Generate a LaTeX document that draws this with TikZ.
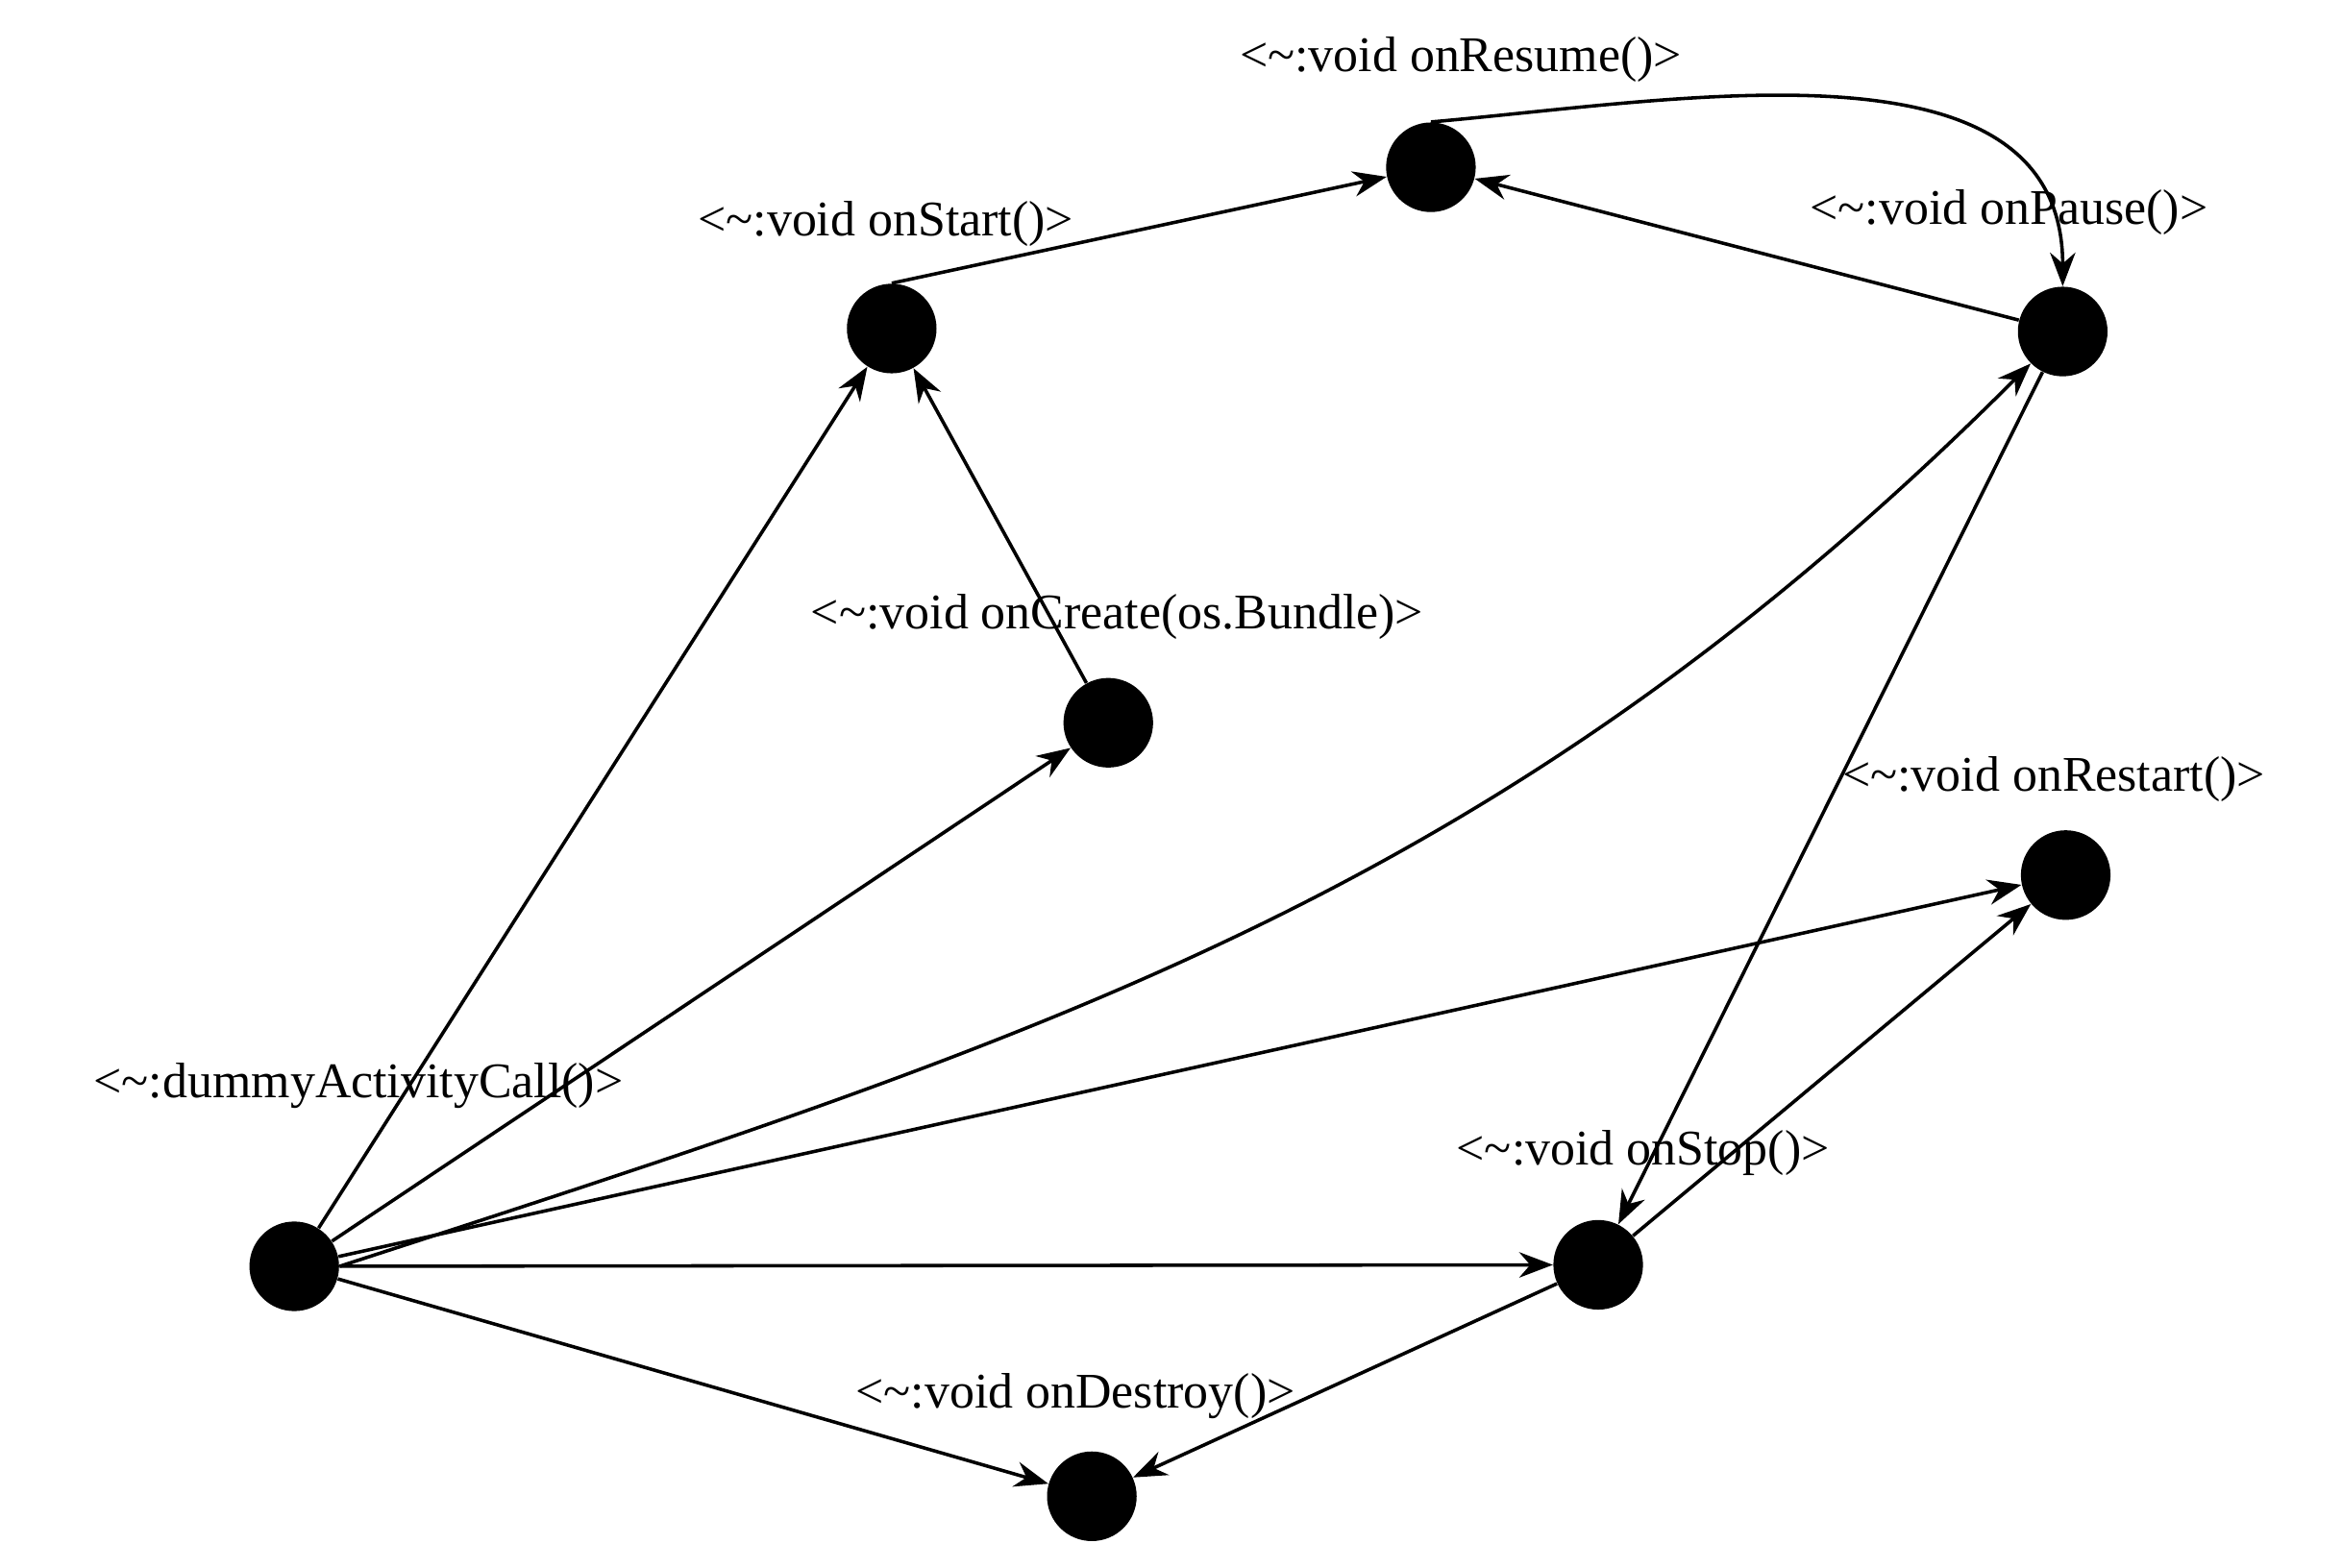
\documentclass[tikz,border=0pt]{standalone}
\usepackage{fontspec}
\setmainfont{Liberation Serif}
\usetikzlibrary{arrows.meta}
\begin{document}
\begin{tikzpicture}[x=0.2mm,y=-0.2mm,
  st/.style={circle,fill=black,inner sep=0pt,minimum size=12mm},
  lb/.style={font=\fontsize{19}{22}\selectfont,inner sep=0pt},
  ar/.style={-{Stealth[length=4.5mm,width=3.4mm]},line width=1.3pt}]
\useasboundingbox (0,0) rectangle (1568,1050);
\node[st] (d) at (197,848) {};
\node[st] (s) at (597,220) {};
\node[st] (r) at (958,112) {};
\node[st] (p) at (1381,222) {};
\node[st] (c) at (742,484) {};
\node[st] (rs) at (1383,586) {};
\node[st] (so) at (1070,847) {};
\node[st] (de) at (731,1002) {};
\node[lb] (ld) at (240,727) {<\textasciitilde:dummyActivityCall()>};
\node[lb] (ls) at (593,150) {<\textasciitilde:void onStart()>};
\node[lb] (lr) at (978,40) {<\textasciitilde:void onResume()>};
\node[lb] (lp) at (1345,142) {<\textasciitilde:void onPause()>};
\node[lb] (lc) at (748,413) {<\textasciitilde:void onCreate(os.Bundle)>};
\node[lb] (lrs) at (1375,522) {<\textasciitilde:void onRestart()>};
\node[lb] (lso) at (1100,772) {<\textasciitilde:void onStop()>};
\node[lb] (lde) at (720,935) {<\textasciitilde:void onDestroy()>};
\draw[ar] (d) -- (s);
\draw[ar] (d) -- (c);
\draw[ar] (d.east) to[out=18,in=225] (p);
\draw[ar] (d) -- (rs);
\draw[ar] (d) -- (so);
\draw[ar] (d) -- (de);
\draw[ar] (c) -- (s);
\draw[ar] (s.north) -- (r);
\draw[ar] (p) -- (r);
\draw[ar] (r.north) to[out=5,in=90] (p.north);
\draw[ar] (p) -- (so);
\draw[ar] (so) -- (rs);
\draw[ar] (so) -- (de);
\end{tikzpicture}
\end{document}
